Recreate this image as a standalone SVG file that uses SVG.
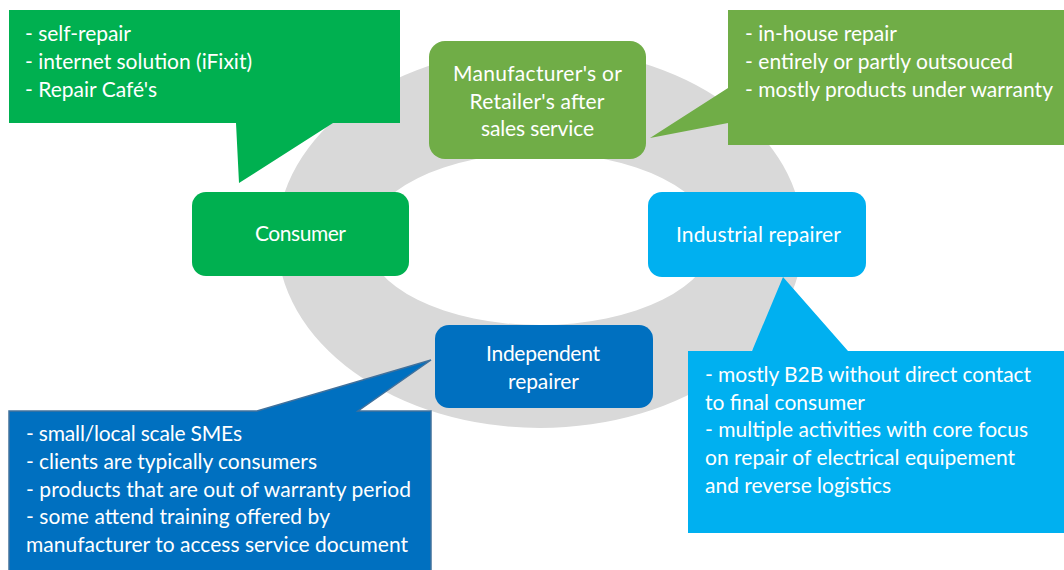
<svg xmlns="http://www.w3.org/2000/svg" width="1064" height="570" viewBox="0 0 1064 570">
<style>
text{font-family:Lato,"Open Sans","Liberation Sans",sans-serif;font-size:21px;fill:#ffffff}
.c{text-anchor:middle}
.ring{fill:#d9d9d9;fill-rule:evenodd}
.g1{fill:#00b050}
.g2{fill:#70ad47}
.b1{fill:#0070c0}
.b2{fill:#00b0f0}
.bl{fill:#0070c0;stroke:#41719c;stroke-width:1.5}
</style>
<rect width="1064" height="570" fill="#ffffff"/>
<g id="ring">
<path class="ring" d="M277,238 a263,190 0 1,0 526,0 a263,190 0 1,0 -526,0 Z M367,239 a173,86 0 1,0 346,0 a173,86 0 1,0 -346,0 Z"/>
</g>
<g id="connectors"></g>
<g id="node-manufacturer">
<rect class="g2" x="429" y="41" width="217" height="118" rx="16"/>
<text class="c" x="537.5" y="81" textLength="169">Manufacturer's or</text>
<text class="c" x="537" y="109" textLength="135">Retailer's after</text>
<text class="c" x="537.5" y="136" textLength="113">sales service</text>
</g>
<g id="node-consumer">
<rect class="g1" x="192" y="192" width="217" height="84" rx="14"/>
<text class="c" x="300.5" y="241" textLength="91">Consumer</text>
</g>
<g id="node-industrial">
<rect class="b2" x="648" y="192" width="218" height="85" rx="14"/>
<text class="c" x="758.5" y="242" textLength="165">Industrial repairer</text>
</g>
<g id="node-independent">
<rect class="b1" x="435" y="325" width="218" height="83" rx="14"/>
<text class="c" x="543" y="361" textLength="114">Independent</text>
<text class="c" x="543.5" y="389" textLength="71">repairer</text>
</g>
<g id="callout-consumer">
<path class="g1" d="M9,10 H400 V123 H333 L239,183 L236,123 H9 Z"/>
<text x="25" y="41" textLength="106">- self-repair</text>
<text x="25" y="69" textLength="227">- internet solution (iFixit)</text>
<text x="25" y="97" textLength="132">- Repair Café's</text>
</g>
<g id="callout-manufacturer">
<path class="g2" d="M728,10 H1064 V145 H728 V123 L650,138 L728,88 Z"/>
<text x="745" y="41" textLength="152">- in-house repair</text>
<text x="745" y="69" textLength="268">- entirely or partly outsouced</text>
<text x="745" y="97" textLength="308">- mostly products under warranty</text>
</g>
<g id="callout-independent">
<path class="bl" d="M9,411 H257 L431,360 L358,411 H431 V575 H9 Z"/>
<text x="26" y="441" textLength="216">- small/local scale SMEs</text>
<text x="26" y="469" textLength="291">- clients are typically consumers</text>
<text x="26" y="497" textLength="385">- products that are out of warranty period</text>
<text x="26" y="524" textLength="304">- some attend training offered by</text>
<text x="26" y="552" textLength="382">manufacturer to access service document</text>
</g>
<g id="callout-industrial">
<path class="b2" d="M688,351 H752 L783,277 L848,351 H1064 V533 H688 Z"/>
<text x="705" y="382" textLength="326">- mostly B2B without direct contact</text>
<text x="705" y="410" textLength="160">to final consumer</text>
<text x="705" y="437" textLength="323">- multiple activities with core focus</text>
<text x="705" y="465" textLength="310">on repair of electrical equipement</text>
<text x="705" y="493" textLength="186">and reverse logistics</text>
</g>
</svg>
